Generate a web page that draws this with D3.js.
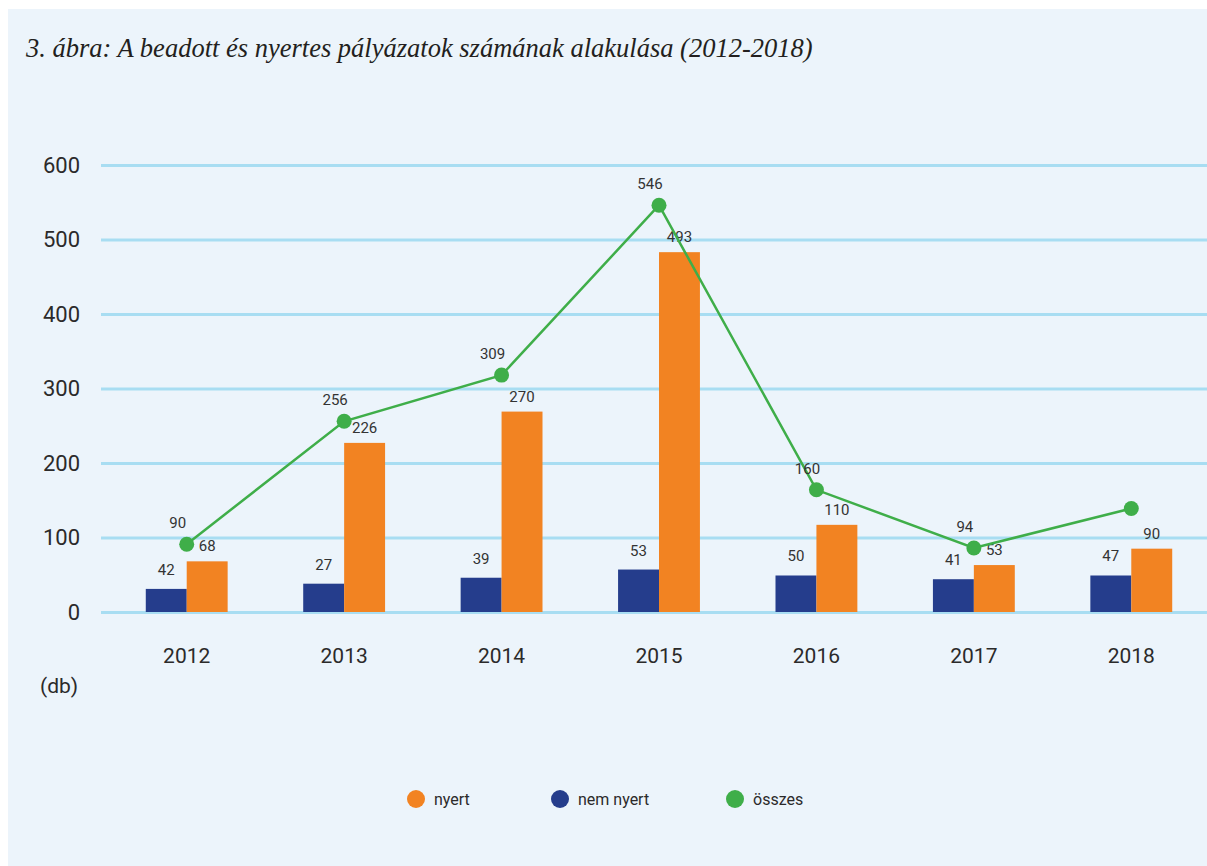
<!DOCTYPE html>
<html>
<head>
<meta charset="utf-8">
<script src="https://cdn.jsdelivr.net/npm/d3@7/dist/d3.min.js"></script>
<style>
  html, body { margin: 0; padding: 0; background: #ffffff; }
  svg { display: block; }
</style>
</head>
<body>
<div id="chart"></div>
<script>
// Data
const years = ["2012", "2013", "2014", "2015", "2016", "2017", "2018"];
const nemNyert = [31, 38, 46, 57, 49, 44, 49];        // bar heights
const nyert = [68, 227, 269, 483, 117, 63, 85];        // bar heights
const osszes = [91, 256, 318, 546, 164, 86, 139];      // line points
const nemNyertLabels = ["42", "27", "39", "53", "50", "41", "47"];
const nyertLabels = ["68", "226", "270", "493", "110", "53", "90"];
const osszesLabels = ["90", "256", "309", "546", "160", "94", ""];
const yTicks = [0, 100, 200, 300, 400, 500, 600];
const legendItems = ["nyert", "nem nyert", "összes"];

const W = 1207, H = 866;
const colors = { nyert: "#F28322", nem: "#253D8C", ossz: "#3FAE49" };
const font = "Roboto, 'DejaVu Sans', sans-serif";

const svg = d3.select("#chart").append("svg")
    .attr("width", W)
    .attr("height", H);

// background panel
svg.append("rect")
    .attr("x", 8).attr("y", 9)
    .attr("width", W - 8).attr("height", H - 9)
    .attr("fill", "#ECF4FB");

// title
svg.append("text")
    .attr("x", 26)
    .attr("y", 57)
    .attr("font-family", "'Liberation Serif', 'DejaVu Serif', serif")
    .attr("font-style", "italic")
    .attr("font-size", 26.5)
    .attr("fill", "#231F20")
    .text("3. ábra: A beadott és nyertes pályázatok számának alakulása (2012-2018)");

const x = d3.scaleBand()
    .domain(years)
    .range([108, 1210])
    .paddingInner(0.48)
    .paddingOuter(0.24);

const x1 = d3.scaleBand()
    .domain(["nem", "nyert"])
    .range([0, x.bandwidth()]);

const y = d3.scaleLinear()
    .domain([0, 600])
    .range([612, 165]);

// gridlines + y labels
const yAxis = svg.append("g")
    .attr("transform", "translate(101,0)")
    .call(d3.axisLeft(y).tickValues(yTicks).tickSize(-(W - 101)).tickPadding(21));
yAxis.select(".domain").remove();
yAxis.selectAll(".tick line")
    .attr("stroke", "#A8DDF2")
    .attr("stroke-width", 3);
yAxis.selectAll(".tick text")
    .attr("font-family", font)
    .attr("font-size", 22)
    .attr("fill", "#2B2A2A");

// x labels
const xAxis = svg.append("g")
    .attr("transform", "translate(0,612)")
    .call(d3.axisBottom(x).tickSize(0).tickPadding(36));
xAxis.select(".domain").remove();
xAxis.selectAll(".tick text")
    .attr("font-family", font)
    .attr("font-size", 21)
    .attr("fill", "#2B2A2A");

svg.append("text")
    .attr("x", 40)
    .attr("y", 693)
    .attr("font-family", font)
    .attr("font-size", 21)
    .attr("fill", "#2B2A2A")
    .text("(db)");

const rows = years.map((yr, i) => ({
    year: yr, nem: nemNyert[i], nyert: nyert[i], ossz: osszes[i],
    nemL: nemNyertLabels[i], nyertL: nyertLabels[i], osszL: osszesLabels[i]
}));

const groups = svg.append("g").selectAll("g")
    .data(rows)
    .enter().append("g")
    .attr("transform", d => `translate(${x(d.year)},0)`);

groups.append("rect")
    .attr("x", x1("nem"))
    .attr("y", d => y(d.nem))
    .attr("width", x1.bandwidth())
    .attr("height", d => y(0) - y(d.nem))
    .attr("fill", colors.nem);

groups.append("rect")
    .attr("x", x1("nyert"))
    .attr("y", d => y(d.nyert))
    .attr("width", x1.bandwidth())
    .attr("height", d => y(0) - y(d.nyert))
    .attr("fill", colors.nyert);

const labelStyle = sel => sel
    .attr("font-family", font)
    .attr("font-size", 15)
    .attr("fill", "#333333")
    .attr("text-anchor", "middle");

groups.append("text")
    .attr("x", x1("nem") + x1.bandwidth() / 2)
    .attr("y", d => y(d.nem) - 14)
    .call(labelStyle)
    .text(d => d.nemL);

groups.append("text")
    .attr("x", x1("nyert") + x1.bandwidth() / 2)
    .attr("y", d => y(d.nyert) - 10)
    .call(labelStyle)
    .text(d => d.nyertL);

// total line
const cx = d => x(d.year) + x.bandwidth() / 2;
svg.append("path")
    .datum(rows)
    .attr("fill", "none")
    .attr("stroke", colors.ossz)
    .attr("stroke-width", 2.5)
    .attr("d", d3.line().x(cx).y(d => y(d.ossz)));

svg.append("g").selectAll("circle")
    .data(rows)
    .enter().append("circle")
    .attr("cx", cx)
    .attr("cy", d => y(d.ossz))
    .attr("r", 7.5)
    .attr("fill", colors.ossz);

svg.append("g").selectAll("text")
    .data(rows)
    .enter().append("text")
    .attr("x", d => cx(d) - 9)
    .attr("y", d => y(d.ossz) - 16)
    .call(labelStyle)
    .text(d => d.osszL);

// legend
const legendColors = [colors.nyert, colors.nem, colors.ossz];
const legendX = [416, 560, 735];
const legend = svg.append("g").selectAll("g")
    .data(legendItems)
    .enter().append("g")
    .attr("transform", (d, i) => `translate(${legendX[i]},799)`);
legend.append("circle")
    .attr("r", 9)
    .attr("fill", (d, i) => legendColors[i]);
legend.append("text")
    .attr("x", 18)
    .attr("dy", "0.35em")
    .attr("font-family", font)
    .attr("font-size", 16)
    .attr("fill", "#2B2A2A")
    .text(d => d);
</script>
</body>
</html>
